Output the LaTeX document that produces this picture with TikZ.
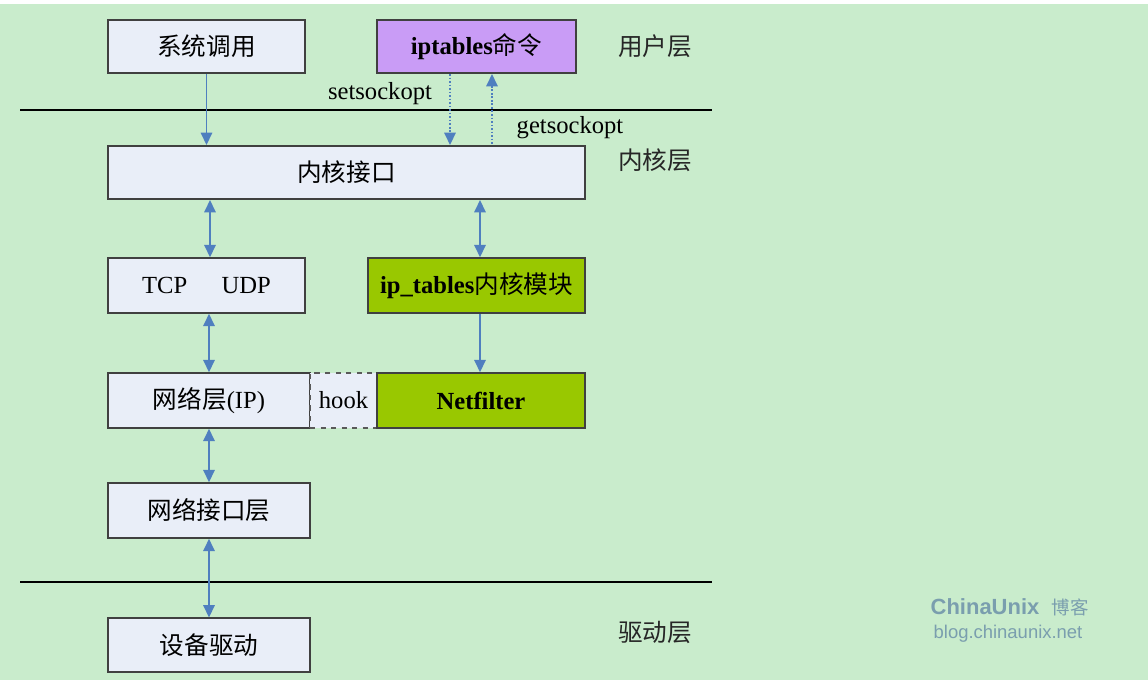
\documentclass[tikz,border=0pt]{standalone}
\usepackage{fontspec}
\setmainfont{Liberation Serif}
\newfontfamily\cjk{Noto Sans CJK SC}
\newfontfamily\wmfont{Liberation Sans}
\usepackage{xcolor}
\usetikzlibrary{arrows.meta}
\definecolor{bggreen}{HTML}{C9ECCC}
\definecolor{boxfill}{HTML}{E9EEF8}
\definecolor{cmdpurple}{HTML}{C99CF6}
\definecolor{modgreen}{HTML}{99C800}
\definecolor{linkblue}{HTML}{4F7FBF}
\definecolor{wmgray}{HTML}{7A9EAE}
\newcommand{\textsize}{\fontsize{14}{16}\selectfont}
\tikzset{box/.style={draw=black!75,line width=0.9pt,fill=#1,minimum height=1.07cm,
  inner sep=0pt,font=\textsize},box/.default=boxfill}
\tikzset{hookbox/.style={box,draw=black!65,dashed}}
\tikzset{layerline/.style={color=black,line width=1.6pt}}
\tikzset{link/.style={color=linkblue,line width=1pt,#1},link/.default=<->}
\tikzset{layername/.style={font=\textsize\cjk,text=black!85}}
\tikzset{>={Triangle[length=7pt,width=6.5pt]}}

\begin{document}
\begin{tikzpicture}[x=0.02cm,y=-0.02cm]

	% Fundo
	\fill [white] (0,0) rectangle (1148,680);
	\fill [bggreen] (0,4) rectangle (1148,680);
	\useasboundingbox (0,0) rectangle (1148,680);

	% Linhas das camadas
	\draw [layerline] (20,110) -- (712,110);
	\draw [layerline] (20,582) -- (712,582);

	% Camada do usuario
	\node [box, minimum width=3.94cm] (syscall) at (206.5,46.5) {\cjk 系统调用};
	\node [box=cmdpurple, minimum width=3.98cm] (iptcmd) at (476.5,46.5)
		{\textbf{iptables}{\cjk 命令}};

	% Camada do nucleo
	\node [box, minimum width=9.54cm] (kif) at (346.5,172.5) {\cjk 内核接口};
	\node [box, minimum width=3.94cm, minimum height=1.1cm] (tcpudp) at (206.5,285.5)
		{TCP\hspace{1.4em}UDP};
	\node [box=modgreen, minimum width=4.34cm, minimum height=1.1cm] (iptmod) at (476.5,285.5)
		{\textbf{ip\_tables}{\cjk 内核模块}};
	\node [box, minimum width=4.04cm, minimum height=1.1cm] (ip) at (209,400.5)
		{{\cjk 网络层}(IP)};
	\node [hookbox, minimum width=1.34cm, minimum height=1.1cm] (hook) at (343.5,400.5) {hook};
	\node [box=modgreen, minimum width=4.16cm, minimum height=1.1cm] (netfilter) at (481,400.5)
		{\textbf{Netfilter}};
	\node [box, minimum width=4.04cm, minimum height=1.1cm] (netif) at (209,510.5)
		{\cjk 网络接口层};

	% Camada do driver
	\node [box, minimum width=4.04cm] (driver) at (209,645) {\cjk 设备驱动};

	% Nomes das camadas
	\node [layername] (userlayer) at (655,46) {用户层};
	\node [layername] (kernlayer) at (655,160) {内核层};
	\node [layername] (drvlayer) at (655,632) {驱动层};

	% Flechas
	\draw [link=->] (syscall.south) -- (syscall.south |- kif.north);
	\draw [link=->, densely dotted] ([xshift=-0.53cm]iptcmd.south)
		-- ([xshift=-0.53cm]iptcmd.south |- kif.north);
	\draw [link=<-, densely dotted] ([xshift=0.31cm]iptcmd.south)
		-- ([xshift=0.31cm]iptcmd.south |- kif.north);
	\draw [link] ([xshift=0.07cm]tcpudp.north) -- ([xshift=0.07cm]tcpudp.north |- kif.south);
	\draw [link] ([xshift=0.07cm]iptmod.north) -- ([xshift=0.07cm]iptmod.north |- kif.south);
	\draw [link] (ip.north) -- (ip.north |- tcpudp.south);
	\draw [link=->] ([xshift=0.07cm]iptmod.south) -- ([xshift=0.07cm]iptmod.south |- netfilter.north);
	\draw [link] (netif.north) -- (ip.south);
	\draw [link] (driver.north) -- (netif.south);

	% Rotulos setsockopt / getsockopt
	\node [font=\textsize] (setopt) at (380,94) {setsockopt};
	\node [font=\textsize] (getopt) at (570,128) {getsockopt};

	% Marca d'agua
	\node [text=wmgray, font=\wmfont\bfseries\fontsize{12.5}{14}\selectfont] (wmname) at (985,607)
		{ChinaUnix};
	\node [text=wmgray, font=\cjk\fontsize{10.5}{12}\selectfont, anchor=west] (wmblog) at (wmname.east)
		{博客};
	\node [text=wmgray, font=\wmfont\fontsize{10.5}{12}\selectfont] (wmurl) at (1008,634)
		{blog.chinaunix.net};

\end{tikzpicture}
\end{document}
